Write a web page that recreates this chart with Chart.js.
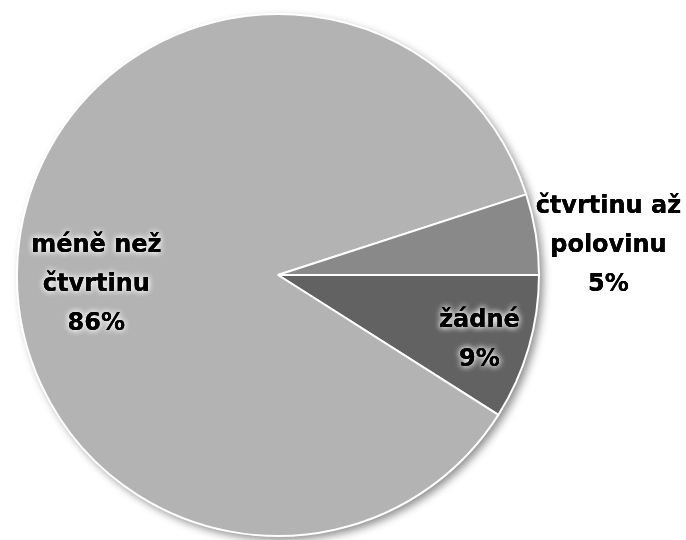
<!DOCTYPE html>
<html>
<head>
<meta charset="utf-8">
<script src="https://cdn.jsdelivr.net/npm/chart.js@4/dist/chart.umd.min.js"></script>
<style>
  html, body { margin: 0; padding: 0; background: #fff; }
  #wrap { width: 686px; height: 540px; }
</style>
</head>
<body>
<div id="wrap"><canvas id="c" width="686" height="540"></canvas></div>
<script>
// Share of the category, slices clockwise from 3 o'clock
const categories = ['žádné', 'méně než čtvrtinu', 'čtvrtinu až polovinu'];
const shares = [9, 86, 5];
// Label text, one entry per line
const labelLines = [
  ['žádné', '9%'],
  ['méně než', 'čtvrtinu', '86%'],
  ['čtvrtinu až', 'polovinu', '5%']
];

const sliceColors = ['#626262', '#b3b3b3', '#898989'];
// Label anchor relative to the pie centre, in units of the radius
const labelAnchors = [
  [0.772, 0.274],
  [-0.696, 0.062],
  [1.266, -0.09]
];

// Soft drop shadow under the whole pie
const pieShadow = {
  id: 'pieShadow',
  beforeDatasetsDraw(chart) {
    const arc = chart.getDatasetMeta(0).data[0];
    if (!arc) return;
    const ctx = chart.ctx;
    ctx.save();
    ctx.shadowColor = 'rgba(0,0,0,0.45)';
    ctx.shadowBlur = 9;
    ctx.shadowOffsetX = 4;
    ctx.shadowOffsetY = 4;
    ctx.fillStyle = '#fff';
    ctx.beginPath();
    ctx.arc(arc.x, arc.y, arc.outerRadius, 0, Math.PI * 2);
    ctx.fill();
    ctx.restore();
  }
};

// Bold labels with a white halo
const sliceLabels = {
  id: 'sliceLabels',
  afterDatasetsDraw(chart) {
    const meta = chart.getDatasetMeta(0);
    const ctx = chart.ctx;
    const lineH = 39;
    ctx.save();
    ctx.font = 'bold 24px "DejaVu Sans"';
    ctx.textAlign = 'center';
    ctx.textBaseline = 'alphabetic';
    meta.data.forEach((arc, i) => {
      const r = arc.outerRadius;
      const ax = arc.x + labelAnchors[i][0] * r;
      const ay = arc.y + labelAnchors[i][1] * r;
      const lines = labelLines[i];
      lines.forEach((t, j) => {
        const y = ay + (j - (lines.length - 1) / 2) * lineH;
        ctx.shadowColor = 'rgba(255,255,255,0.95)';
        ctx.shadowBlur = 6;
        ctx.fillStyle = '#000';
        ctx.fillText(t, ax, y);
        ctx.fillText(t, ax, y);
        ctx.shadowBlur = 0;
        ctx.fillText(t, ax, y);
      });
    });
    ctx.restore();
  }
};

new Chart(document.getElementById('c'), {
  type: 'pie',
  data: {
    labels: categories,
    datasets: [{
      data: shares,
      backgroundColor: sliceColors,
      borderColor: '#ffffff',
      borderWidth: 2
    }]
  },
  options: {
    responsive: false,
    animation: false,
    rotation: 90,
    layout: { padding: { left: 16, right: 146, top: 13, bottom: 3 } },
    plugins: {
      legend: { display: false },
      tooltip: { enabled: false }
    }
  },
  plugins: [pieShadow, sliceLabels]
});
</script>
</body>
</html>
